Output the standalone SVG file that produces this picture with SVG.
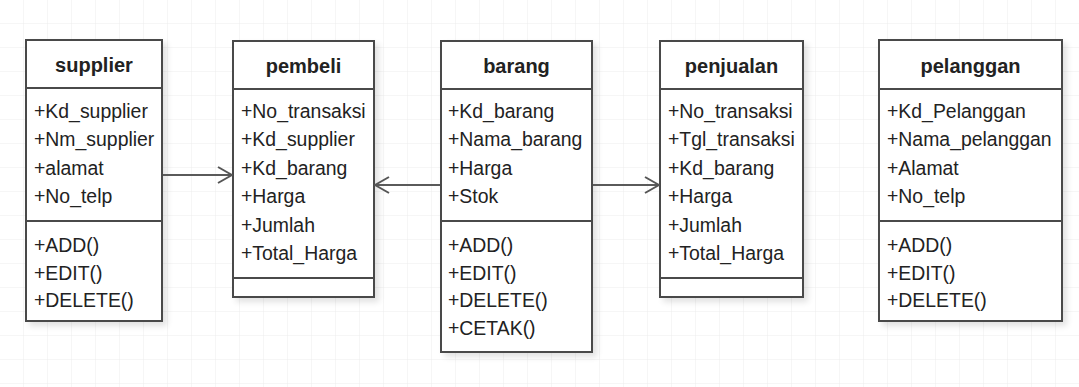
<svg xmlns="http://www.w3.org/2000/svg" width="1079" height="387" viewBox="0 0 1079 387">
  <defs>
    <pattern id="grid" width="24" height="24" patternUnits="userSpaceOnUse">
      <path d="M24 0 V24 M0 24 H24" fill="none" stroke="#ececec" stroke-width="1"/>
    </pattern>
    <filter id="shadow" x="-10%" y="-10%" width="130%" height="130%">
      <feGaussianBlur in="SourceAlpha" stdDeviation="3"/>
      <feOffset dx="4" dy="4" result="b"/>
      <feComponentTransfer><feFuncA type="linear" slope="0.12"/></feComponentTransfer>
      <feMerge><feMergeNode/><feMergeNode in="SourceGraphic"/></feMerge>
    </filter>
    <marker id="open" viewBox="0 0 16 18" refX="15" refY="9" markerWidth="16" markerHeight="18" markerUnits="userSpaceOnUse" orient="auto">
      <path d="M1 1 L15 9 L1 17" fill="none" stroke="#555" stroke-width="2"/>
    </marker>
  </defs>
  <style>
    .box { fill: #ffffff; stroke: #4a4a4a; stroke-width: 2; }
    .div { stroke: #4a4a4a; stroke-width: 2; }
    .title { font-family: "Liberation Sans", Arial, sans-serif; font-size: 20px; font-weight: bold; fill: #222; text-anchor: middle; }
    .attr { font-family: "Liberation Sans", Arial, sans-serif; font-size: 21px; fill: #222; }
    .conn { stroke: #5a5a5a; stroke-width: 2; fill: none; }
  </style>

  <rect width="1079" height="387" fill="#ffffff"/>
  <rect width="1079" height="387" fill="url(#grid)"/>

  <g id="supplier">
    <rect class="box" x="26" y="40" width="136" height="281" filter="url(#shadow)"/>
    <line class="div" x1="26" y1="88" x2="162" y2="88"/>
    <line class="div" x1="26" y1="221" x2="162" y2="221"/>
    <text class="title" x="94" y="72">supplier</text>
    <g transform="translate(34 0) scale(0.925 1)" class="attr">
      <text x="0" y="118">+Kd_supplier</text>
      <text x="0" y="146.5">+Nm_supplier</text>
      <text x="0" y="175">+alamat</text>
      <text x="0" y="203.5">+No_telp</text>
      <text x="0" y="252">+ADD()</text>
      <text x="0" y="280">+EDIT()</text>
      <text x="0" y="307">+DELETE()</text>
    </g>
  </g>

  <g id="pembeli">
    <rect class="box" x="233" y="41" width="141" height="256" filter="url(#shadow)"/>
    <line class="div" x1="233" y1="89" x2="374" y2="89"/>
    <line class="div" x1="233" y1="278" x2="374" y2="278"/>
    <text class="title" x="303.5" y="73">pembeli</text>
    <g transform="translate(241 0) scale(0.925 1)" class="attr">
      <text x="0" y="118">+No_transaksi</text>
      <text x="0" y="146.5">+Kd_supplier</text>
      <text x="0" y="175">+Kd_barang</text>
      <text x="0" y="203.5">+Harga</text>
      <text x="0" y="232">+Jumlah</text>
      <text x="0" y="260.5">+Total_Harga</text>
    </g>
  </g>

  <g id="barang">
    <rect class="box" x="441" y="41" width="151" height="311" filter="url(#shadow)"/>
    <line class="div" x1="441" y1="89" x2="592" y2="89"/>
    <line class="div" x1="441" y1="221" x2="592" y2="221"/>
    <text class="title" x="516.5" y="73">barang</text>
    <g transform="translate(448 0) scale(0.925 1)" class="attr">
      <text x="0" y="118">+Kd_barang</text>
      <text x="0" y="146.5">+Nama_barang</text>
      <text x="0" y="175">+Harga</text>
      <text x="0" y="203.5">+Stok</text>
      <text x="0" y="252">+ADD()</text>
      <text x="0" y="280">+EDIT()</text>
      <text x="0" y="307.5">+DELETE()</text>
      <text x="0" y="335">+CETAK()</text>
    </g>
  </g>

  <g id="penjualan">
    <rect class="box" x="660" y="41" width="143" height="256" filter="url(#shadow)"/>
    <line class="div" x1="660" y1="89" x2="803" y2="89"/>
    <line class="div" x1="660" y1="278" x2="803" y2="278"/>
    <text class="title" x="731.5" y="73">penjualan</text>
    <g transform="translate(668 0) scale(0.925 1)" class="attr">
      <text x="0" y="118">+No_transaksi</text>
      <text x="0" y="146.5">+Tgl_transaksi</text>
      <text x="0" y="175">+Kd_barang</text>
      <text x="0" y="203.5">+Harga</text>
      <text x="0" y="232">+Jumlah</text>
      <text x="0" y="260.5">+Total_Harga</text>
    </g>
  </g>

  <g id="pelanggan">
    <rect class="box" x="879" y="40" width="183" height="281" filter="url(#shadow)"/>
    <line class="div" x1="879" y1="89" x2="1062" y2="89"/>
    <line class="div" x1="879" y1="221" x2="1062" y2="221"/>
    <text class="title" x="970.5" y="73">pelanggan</text>
    <g transform="translate(887 0) scale(0.925 1)" class="attr">
      <text x="0" y="118">+Kd_Pelanggan</text>
      <text x="0" y="146.5">+Nama_pelanggan</text>
      <text x="0" y="175">+Alamat</text>
      <text x="0" y="203.5">+No_telp</text>
      <text x="0" y="252">+ADD()</text>
      <text x="0" y="280">+EDIT()</text>
      <text x="0" y="307">+DELETE()</text>
    </g>
  </g>

  <g id="connectors">
    <line class="conn" x1="163" y1="175" x2="232" y2="175" marker-end="url(#open)"/>
    <line class="conn" x1="440" y1="185" x2="375" y2="185" marker-end="url(#open)"/>
    <line class="conn" x1="593" y1="185" x2="659" y2="185" marker-end="url(#open)"/>
  </g>
</svg>
